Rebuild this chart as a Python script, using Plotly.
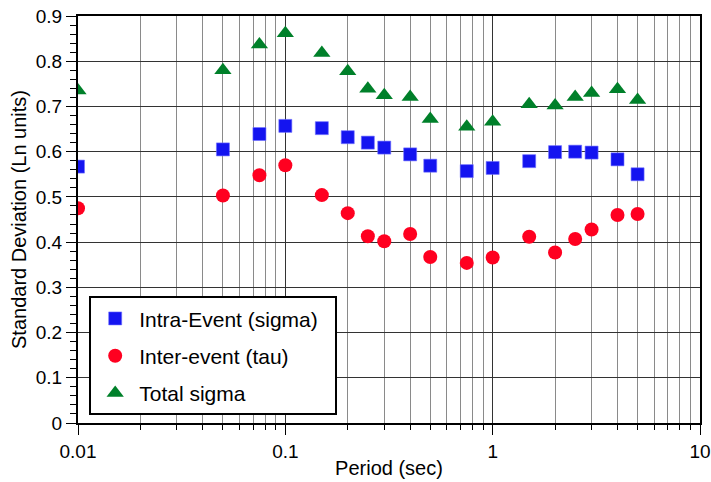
import plotly.graph_objects as go

period = [0.01, 0.05, 0.075, 0.1, 0.15, 0.2, 0.25, 0.3, 0.4, 0.5, 0.75, 1.0, 1.5, 2.0, 2.5, 3.0, 4.0, 5.0]
intra_sigma = [0.567, 0.605, 0.639, 0.657, 0.652, 0.632, 0.620, 0.609, 0.594, 0.569, 0.557, 0.564, 0.579, 0.599, 0.600, 0.598, 0.583, 0.550]
inter_tau = [0.475, 0.503, 0.548, 0.570, 0.504, 0.464, 0.413, 0.402, 0.418, 0.367, 0.354, 0.366, 0.412, 0.377, 0.407, 0.428, 0.460, 0.462]
total_sigma = [0.735, 0.780, 0.837, 0.862, 0.818, 0.778, 0.739, 0.725, 0.721, 0.672, 0.655, 0.666, 0.705, 0.702, 0.721, 0.730, 0.738, 0.714]

x_tickvals = [0.01, 0.1, 1, 10]
x_ticktext = ["0.01", "0.1", "1", "10"]

FONT = "Liberation Sans, Arial, Helvetica, sans-serif"

fig = go.Figure()
fig.add_trace(go.Scatter(
    x=period, y=intra_sigma, mode="markers", name="Intra-Event (sigma)\u00a0\u00a0",
    legendgroup="a",
    marker=dict(symbol="square", size=13, color="#1414F0",
                line=dict(width=0.6, color="#7070FF"))))
fig.add_trace(go.Scatter(
    x=period, y=inter_tau, mode="markers", name="Inter-event (tau)",
    legendgroup="b",
    marker=dict(symbol="circle", size=14, color="#FF0020", line=dict(width=0))))
fig.add_trace(go.Scatter(
    x=period, y=total_sigma, mode="markers", name="Total sigma",
    legendgroup="c",
    marker=dict(symbol="triangle-up", size=15, color="#00802A", line=dict(width=0))))

minor_x = [m * 10 ** e for e in (-2, -1, 0) for m in range(2, 10)]

fig.update_layout(
    width=711, height=482,
    margin=dict(l=78, r=11, t=16, b=59, autoexpand=False),
    paper_bgcolor="white", plot_bgcolor="white",
    font=dict(family=FONT, size=19, color="black"),
    showlegend=True,
    legend=dict(
        x=0.018, y=0.019, xanchor="left", yanchor="bottom",
        bgcolor="white", bordercolor="black", borderwidth=2,
        font=dict(size=21, family=FONT, color="black"),
        traceorder="grouped", tracegroupgap=7,
        itemwidth=38,
    ),
    xaxis=dict(
        type="log", range=[-2, 1], automargin=False,
        tickmode="array", tickvals=x_tickvals, ticktext=x_ticktext,
        ticklabeloverflow="allow",
        ticks="outside", ticklen=10, tickwidth=1, tickcolor="black",
        showline=True, linecolor="black", linewidth=2, mirror=True,
        showgrid=True, gridcolor="#333333", gridwidth=1.3,
        minor=dict(tickmode="array", tickvals=minor_x, ticks="outside", ticklen=5,
                   tickcolor="black", showgrid=True, gridcolor="#8a8a8a", gridwidth=1),
        tickfont=dict(size=19),
        title=dict(text="Period (sec)", font=dict(size=20), standoff=0),
        zeroline=False,
    ),
    yaxis=dict(
        range=[0, 0.9], dtick=0.1, tick0=0, automargin=False,
        ticklabeloverflow="allow",
        ticks="outside", ticklen=10, tickwidth=1, tickcolor="black",
        showline=True, linecolor="black", linewidth=2, mirror=True,
        showgrid=True, gridcolor="#333333", gridwidth=1,
        minor=dict(dtick=0.02, ticks="outside", ticklen=6, tickcolor="black", showgrid=False),
        tickfont=dict(size=19),
        title=dict(text="Standard Deviation (Ln units)", font=dict(size=20), standoff=4),
        zeroline=False,
    ),
)

fig.write_html("out.html", config={"displayModeBar": False},
               post_script="document.body.style.margin='0px';document.body.style.overflow='hidden';")
